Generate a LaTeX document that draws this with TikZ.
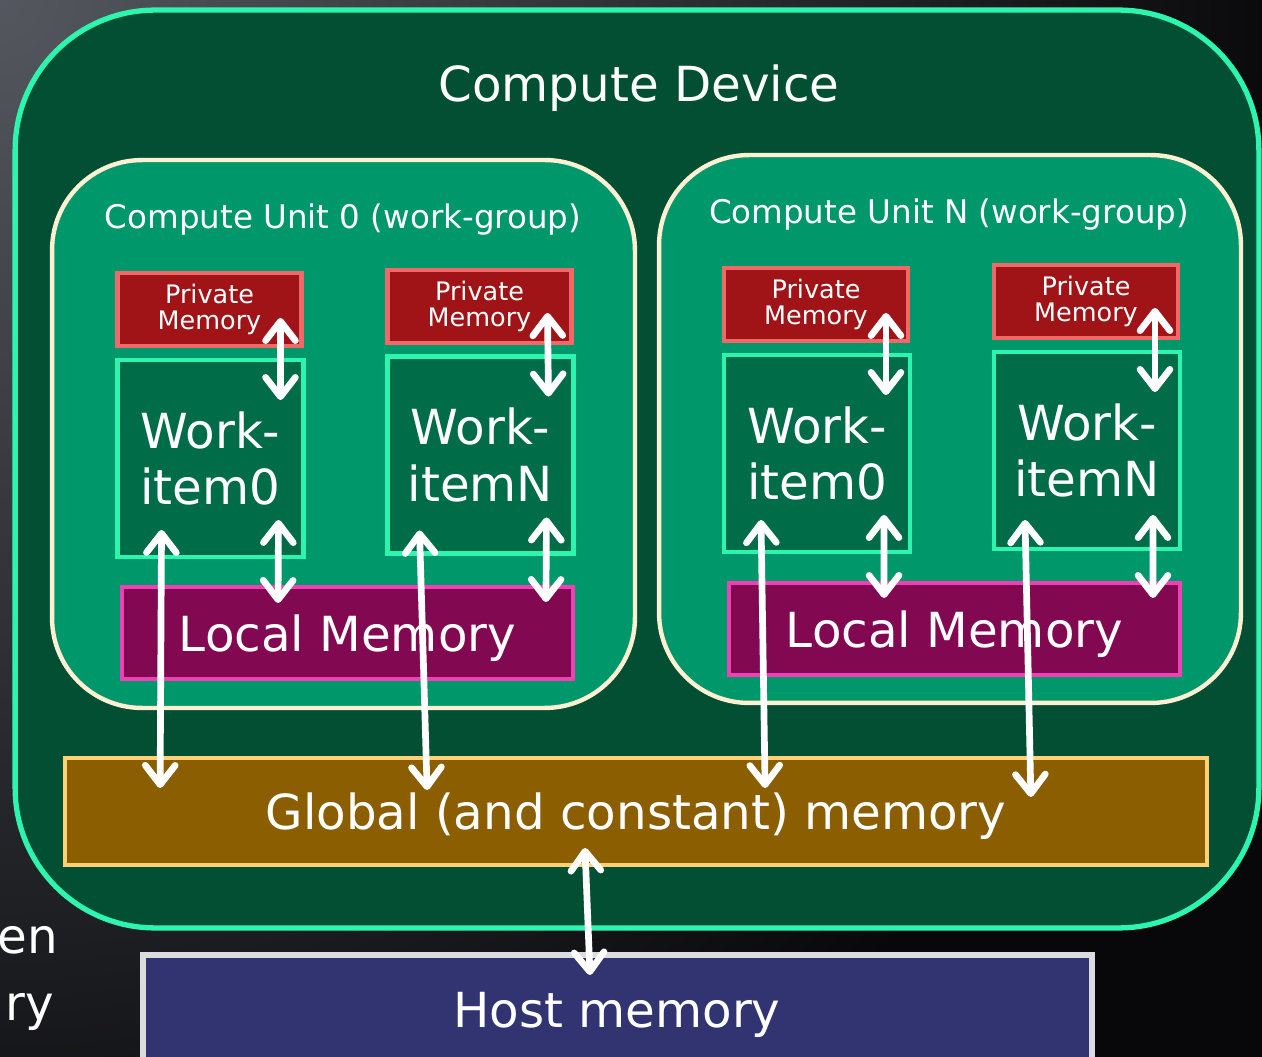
\documentclass[tikz,border=0pt]{standalone}
\usepackage{fontspec}
\setmainfont{DejaVu Sans}
\usetikzlibrary{arrows.meta,calc}
\definecolor{bgrey}{HTML}{54575F}
\definecolor{bblack}{HTML}{08080A}
\definecolor{devline}{HTML}{2CF5B0}
\definecolor{devfill}{HTML}{024F33}
\definecolor{cufill}{HTML}{00986A}
\definecolor{culine}{HTML}{FFEFD3}
\definecolor{pmfill}{HTML}{A01418}
\definecolor{pmline}{HTML}{F06868}
\definecolor{wifill}{HTML}{006C48}
\definecolor{lmfill}{HTML}{820852}
\definecolor{lmline}{HTML}{F040B5}
\definecolor{gmfill}{HTML}{8B5E02}
\definecolor{gmline}{HTML}{FFD074}
\definecolor{hmfill}{HTML}{313470}
\definecolor{hmline}{HTML}{DBDCDF}
\newcommand{\bigtext}{\fontsize{27.5}{32}\selectfont}
\begin{document}
\begin{tikzpicture}[x=0.02cm,y=-0.02cm,
  box/.style={draw,inner sep=0pt,outer sep=0pt,text=white,align=center},
  pmbox/.style={box,fill=pmfill,draw=pmline,line width=2.4pt,minimum width=3.68cm,minimum height=1.46cm,font=\fontsize{14.5}{15}\selectfont},
  wibox/.style={box,fill=wifill,draw=devline,line width=2.6pt,minimum width=3.72cm,minimum height=3.94cm,font=\bigtext},
  lmbox/.style={box,fill=lmfill,draw=lmline,line width=2.5pt,minimum width=9.02cm,minimum height=1.84cm,font=\bigtext,text depth=0pt},
  cubox/.style={box,fill=cufill,draw=culine,line width=2.5pt,rounded corners=1.8cm,minimum height=10.96cm},
  link/.style={white,line width=3.8pt,line cap=round,
    {Straight Barb[length=11pt,width=17pt,line cap=round,line join=round]}-{Straight Barb[length=11pt,width=17pt,line cap=round,line join=round]}}]
\useasboundingbox (0,0) rectangle (1262,1057);
\clip (0,0) rectangle (1262,1057);
% background
\fill[bblack] (0,0) rectangle (1262,1057);
\shade[inner color=bgrey,outer color=bblack] (0,0) circle (1300);
% compute device
\node[box,fill=devfill,draw=devline,line width=3pt,rounded corners=2.8cm,minimum width=24.88cm,minimum height=18.36cm] (dev) at (637,469) {};
\node[text=white,font=\bigtext] (devt) at (639,88) {Compute Device};
% compute units
\node[cubox,minimum width=11.66cm] (cu0) at (343.5,434) {};
\node[cubox,minimum width=11.64cm] (cuN) at (950,429) {};
\node[text=white,font=\fontsize{18.5}{20}\selectfont] (cu0t) at (343,220) {Compute Unit 0 (work-group)};
\node[text=white,font=\fontsize{18.5}{20}\selectfont] (cuNt) at (949,215) {Compute Unit N (work-group)};
% private memories
\node[pmbox] (pm00) at (209.5,309.5) {Private\\Memory};
\node[pmbox] (pm0N) at (479.5,306.5) {Private\\Memory};
\node[pmbox] (pmN0) at (816,304.5) {Private\\Memory};
\node[pmbox] (pmNN) at (1086,301.5) {Private\\Memory};
% work-items
\node[wibox] (wi00) at (210.5,458.5) {Work-\\item0};
\node[wibox] (wi0N) at (480.5,455) {Work-\\itemN};
\node[wibox] (wiN0) at (817,453.5) {Work-\\item0};
\node[wibox] (wiNN) at (1087,450.5) {Work-\\itemN};
% local memories
\node[lmbox] (lm0) at (347.5,633) {Local Memory};
\node[lmbox] (lmN) at (954.5,629) {Local Memory};
% global and host
\node[box,fill=gmfill,draw=gmline,line width=2.5pt,minimum width=22.84cm,minimum height=2.14cm,font=\bigtext,text depth=0pt] (gm) at (636,811.5) {Global (and constant) memory};
\node[box,fill=hmfill,draw=hmline,line width=3pt,minimum width=18.98cm,minimum height=2.3cm] (hm) at (617.5,1012.5) {};
\node[text=white,font=\bigtext,text depth=0pt] (hmt) at (617,1010) {Host memory};
% cut-off slide text
\node[anchor=base east,text=white,font=\bigtext,inner sep=0pt] (txa) at (58,953) {en};
\node[anchor=base east,text=white,font=\bigtext,inner sep=0pt] (txb) at (54,1020) {ry};
% arrows, unit 0
\draw[link] ([shift={(-21,-28)}]pm00.south east) -- ([shift={(-23,40)}]wi00.north east);
\draw[link] ([shift={(-25,-37)}]wi00.south east) -- ([shift={(156,16)}]lm0.north west);
\draw[link] ([shift={(44,-27)}]wi00.south west) -- ([shift={(95,30)}]gm.north west);
\draw[link] ([shift={(-24,-30)}]pm0N.south east) -- ([shift={(-25,40)}]wi0N.north east);
\draw[link] ([shift={(-27,-36)}]wi0N.south east) -- ([shift={(-27,15)}]lm0.north east);
\draw[link] ([shift={(32,-23)}]wi0N.south west) -- ([shift={(362,32)}]gm.north west);
% arrows, unit N
\draw[link] ([shift={(-22,-28)}]pmN0.south east) -- ([shift={(-24,40)}]wiN0.north east);
\draw[link] ([shift={(-26,-37)}]wiN0.south east) -- ([shift={(155,15)}]lmN.north west);
\draw[link] ([shift={(37,-32)}]wiN0.south west) -- ([shift={(700,30)}]gm.north west);
\draw[link] ([shift={(-23,-30)}]pmNN.south east) -- ([shift={(-25,40)}]wiNN.north east);
\draw[link] ([shift={(-27,-34)}]wiNN.south east) -- ([shift={(-27,15)}]lmN.north east);
\draw[link] ([shift={(31,-29)}]wiNN.south west) -- ([shift={(-176,39)}]gm.north east);
% global to host
\draw[link] ([shift={(-51,-17)}]gm.south) -- ([shift={(-27.5,20)}]hm.north);
\end{tikzpicture}
\end{document}
